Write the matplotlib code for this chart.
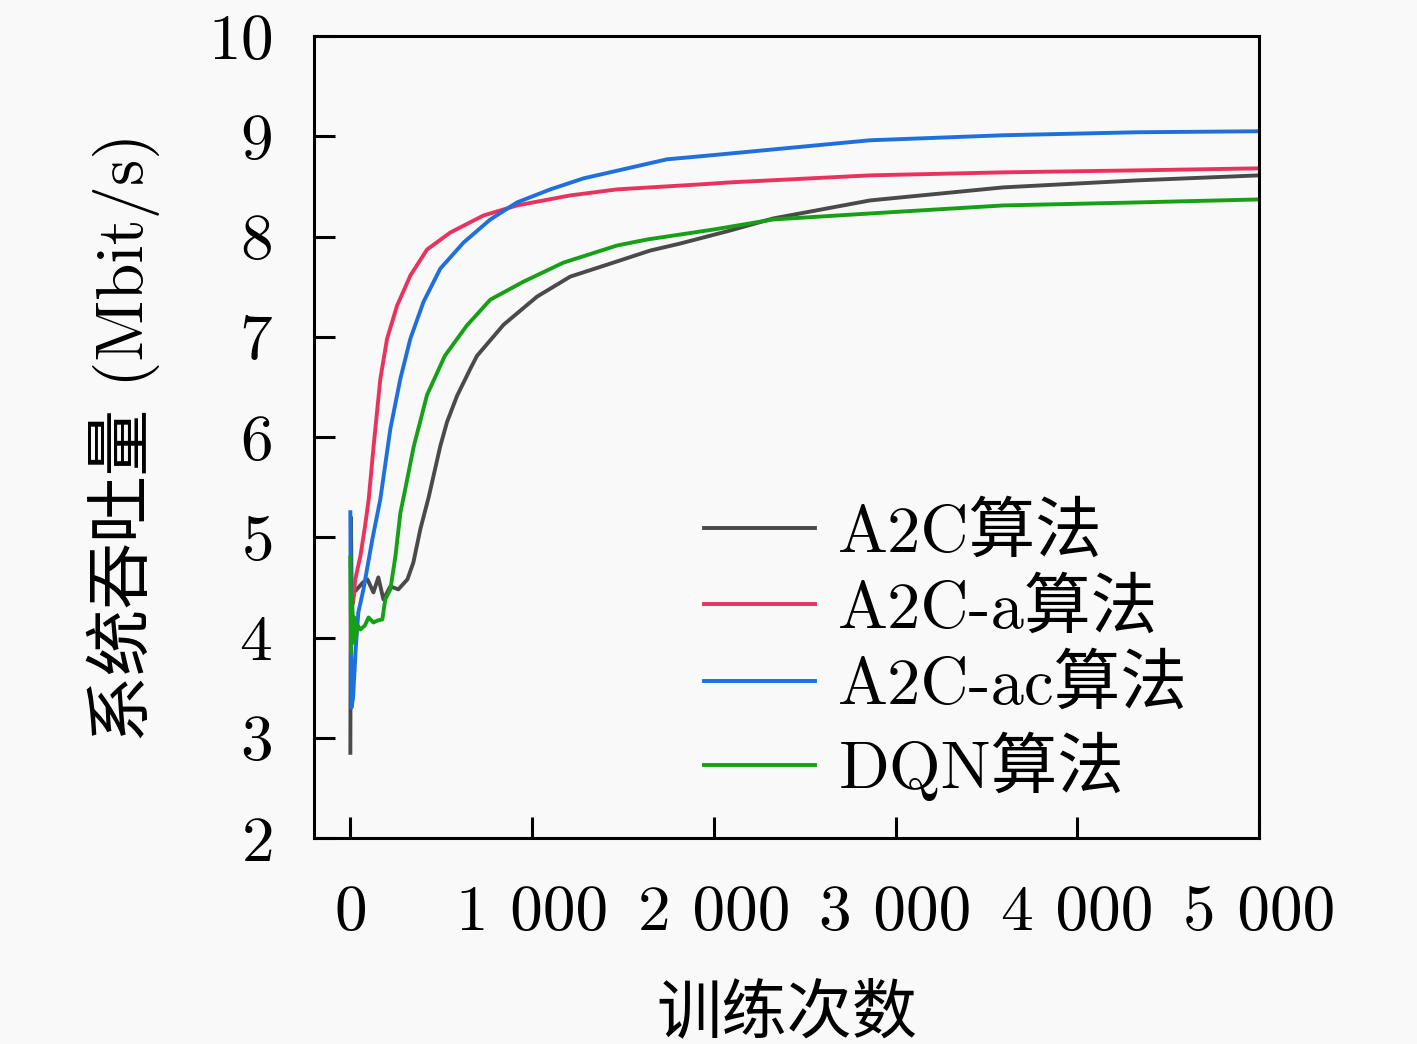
import numpy as np
import matplotlib
matplotlib.use("Agg")
import matplotlib.pyplot as plt

plt.rcParams['font.family'] = ['cmr10', 'Noto Sans CJK SC', 'DejaVu Sans']
plt.rcParams['axes.formatter.use_mathtext'] = True

# 读图得到的数据 (训练次数, 吞吐量)
a2c_x = [0, 3, 8, 20, 45, 70, 94, 127, 154, 182, 220, 264, 314, 347, 385, 431, 495, 532,
         587, 660, 697, 843, 1027, 1210, 1448, 1650, 1815, 2090, 2326, 2860, 3592, 4329, 5000]
a2c_y = [2.85, 5.2, 4.3, 4.45, 4.5, 4.55, 4.58, 4.45, 4.6, 4.38, 4.51, 4.48, 4.58, 4.75, 5.08,
         5.4, 5.91, 6.15, 6.41, 6.68, 6.81, 7.12, 7.4, 7.6, 7.74, 7.86, 7.93, 8.06, 8.18, 8.36,
         8.49, 8.56, 8.61]

a2c_a_x = [5, 15, 27, 55, 80, 101, 128, 165, 202, 257, 330, 422, 550, 733, 917, 1210, 1467,
           1925, 2090, 2860, 3592, 4329, 5000]
a2c_a_y = [4.3, 4.35, 4.58, 4.81, 5.1, 5.38, 5.91, 6.58, 6.98, 7.31, 7.61, 7.87, 8.04, 8.21,
           8.31, 8.41, 8.47, 8.52, 8.54, 8.61, 8.64, 8.66, 8.68]

a2c_ac_x = [0, 6, 15, 30, 44, 72, 121, 165, 220, 275, 330, 403, 495, 623, 770, 917, 1100,
            1283, 1742, 1925, 2860, 3592, 4329, 5000]
a2c_ac_y = [5.25, 3.3, 3.4, 3.9, 4.25, 4.48, 4.98, 5.38, 6.08, 6.58, 6.98, 7.35, 7.68, 7.94,
            8.17, 8.34, 8.47, 8.58, 8.77, 8.8, 8.96, 9.01, 9.04, 9.05]

dqn_x = [0, 4, 10, 16, 22, 30, 40, 55, 80, 100, 127, 150, 176, 192, 220, 248, 275, 302, 348,
         422, 520, 640, 770, 953, 1173, 1467, 1632, 1999, 2326, 2860, 3592, 4329, 5000]
dqn_y = [4.8, 3.85, 4.4, 3.95, 4.2, 4.0, 4.12, 4.08, 4.12, 4.2, 4.15, 4.17, 4.18, 4.38, 4.48,
         4.81, 5.24, 5.48, 5.9, 6.42, 6.81, 7.11, 7.37, 7.55, 7.74, 7.91, 7.97, 8.07, 8.17,
         8.23, 8.31, 8.34, 8.37]

labels = ['A2C算法', 'A2C-a算法', 'A2C-ac算法', 'DQN算法']
colors = ['#4a4a4a', '#e8335f', '#1f6fdc', '#17a017']

x_ticks = [0, 1000, 2000, 3000, 4000, 5000]
x_tick_labels = ['0', '1 000', '2 000', '3 000', '4 000', '5 000']
y_ticks = [2, 3, 4, 5, 6, 7, 8, 9, 10]

fig = plt.figure(figsize=(14.17, 10.44), dpi=100)
fig.patch.set_facecolor('#f9f9f9')
ax = fig.add_axes([0.2216, 0.1973, 0.6669, 0.7682])
ax.set_facecolor('#f9f9f9')

series = [(a2c_x, a2c_y), (a2c_a_x, a2c_a_y), (a2c_ac_x, a2c_ac_y), (dqn_x, dqn_y)]
for (xs, ys), lab, c in zip(series, labels, colors):
    ax.plot(xs, ys, color=c, lw=2.8, label=lab, solid_joinstyle='round')

ax.set_xlim(-200, 5000)
ax.set_ylim(2, 10)
ax.set_xticks(x_ticks)
ax.set_xticklabels(x_tick_labels)
ax.set_yticks(y_ticks)
ax.tick_params(direction='in', length=15, width=2.2, labelsize=47)
ax.tick_params(axis='x', pad=34)
ax.tick_params(axis='y', pad=30)
for s in ax.spines.values():
    s.set_linewidth(2.2)

ax.set_xlabel('训练次数', fontsize=47, labelpad=30)
ax.set_ylabel('系统吞吐量 (Mbit/s)', fontsize=48, labelpad=34)

leg = ax.legend(loc='center left', bbox_to_anchor=(0.413, 0.232), frameon=False,
                fontsize=48, handlelength=1.66, handletextpad=0.35, labelspacing=0.22,
                borderpad=0, borderaxespad=0)

fig.savefig('out.png', dpi=100, facecolor=fig.get_facecolor())
